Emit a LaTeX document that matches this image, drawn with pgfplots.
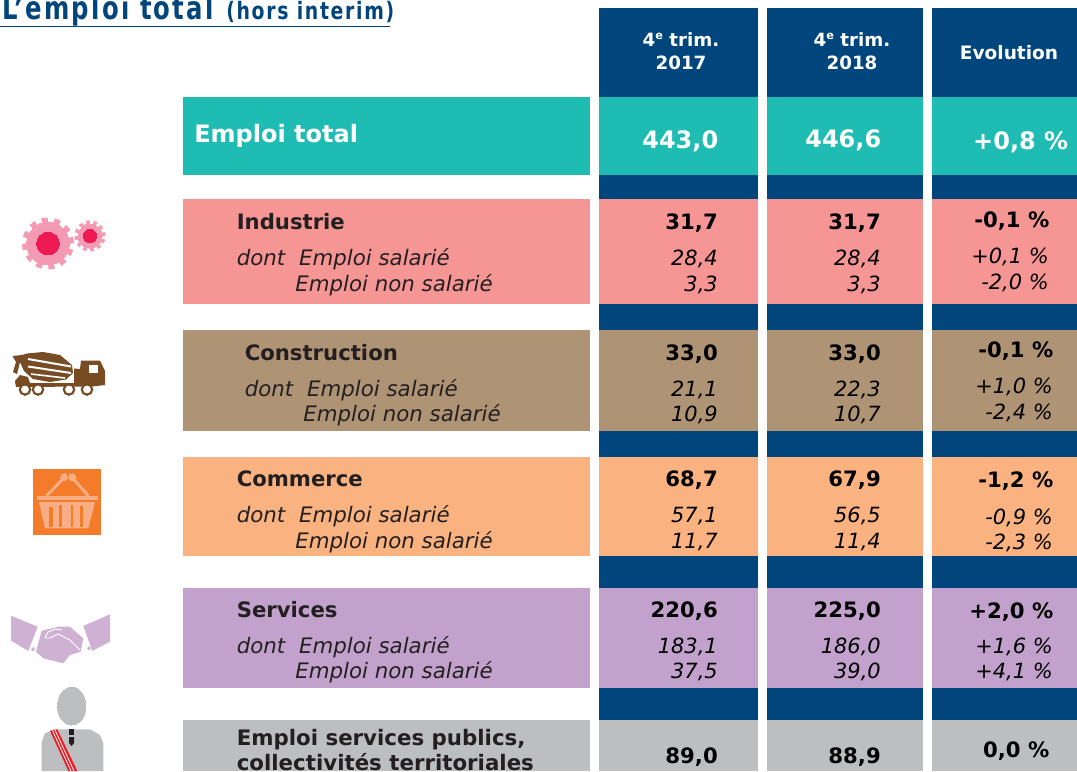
\documentclass[border=0pt]{standalone}
\usepackage{fontspec}
\usepackage{pgfplots}
\pgfplotsset{compat=1.18}
\setmainfont{DejaVu Sans}
\newfontfamily\titlef[LetterSpace=9]{DejaVu Sans}
\definecolor{navy}{HTML}{00457C}
\definecolor{teal1}{HTML}{1FBCB4}
\definecolor{pink1}{HTML}{F59695}
\definecolor{brown1}{HTML}{AF9375}
\definecolor{orange1}{HTML}{FAB380}
\definecolor{purple1}{HTML}{C2A2CC}
\definecolor{grey1}{HTML}{BCBEC0}
\definecolor{ink}{HTML}{231F20}
\definecolor{gearl}{HTML}{F49AB4}
\definecolor{gearc}{HTML}{ED1A53}
\definecolor{truck}{HTML}{774B24}
\definecolor{bask}{HTML}{F47B2A}
\definecolor{baskl}{HTML}{F8AE85}
\definecolor{shake}{HTML}{CFB1D4}
\definecolor{sash}{HTML}{ED1C24}
% x0 x1 y0 y1 in image pixels
\newcommand{\rect}[5]{\addplot[fill=#1,draw=none] coordinates {(#2,#4) (#3,#4) (#3,#5) (#2,#5)} --cycle;}
\newcommand{\poly}[2]{\addplot[fill=#1,draw=none] coordinates {#2} --cycle;}
\newcommand{\seg}[3]{\addplot[color=#1,line width=#2] coordinates {#3};}
\newcommand{\disc}[4]{\addplot[only marks,mark=*,mark size=#4,mark options={fill=#1,draw=#1,line width=0pt}] coordinates {(#2,#3)};}
% three numeric columns of one row: x right edge, baseline
\newcommand{\num}[4]{\node[anchor=base east,inner sep=0,text=black] at (axis cs:#1,#2) {\fontsize{#3}{#3}\selectfont #4};}
\newcommand{\lab}[4]{\node[anchor=base west,inner sep=0,text=ink] at (axis cs:#1,#2) {\fontsize{#3}{#3}\selectfont #4};}
\newcommand{\row}[6]{%
  \lab{#1}{#2}{15.9}{\bfseries #3}
  \lab{#1}{#4}{16}{\itshape dont\hspace{0.65em}Emploi salarié}
  \lab{#6}{#5}{16}{\itshape Emploi non salarié}}
\newcommand{\trim}{\fontsize{13.7}{13.7}\selectfont\bfseries 4\raisebox{.62ex}{\fontsize{8.5}{8.5}\selectfont e} trim.}
\begin{document}
\begin{tikzpicture}
\useasboundingbox (0,0) rectangle (807.75pt,578.25pt);
\begin{axis}[at={(0,0)},anchor=south west,width=807.75pt,height=578.25pt,scale only axis,
  xmin=0,xmax=1077,ymin=0,ymax=771,y dir=reverse,hide axis,clip=true]
% table cells
\rect{navy}{599}{758}{8}{720}
\rect{navy}{767}{923}{8}{720}
\rect{navy}{932}{1077}{8}{720}
\rect{teal1}{183}{590}{97}{175}
\rect{teal1}{599}{758}{97}{175}
\rect{teal1}{767}{923}{97}{175}
\rect{teal1}{932}{1077}{97}{175}
\rect{pink1}{183}{590}{199}{304}
\rect{pink1}{599}{758}{199}{304}
\rect{pink1}{767}{923}{199}{304}
\rect{pink1}{932}{1077}{199}{304}
\rect{brown1}{183}{590}{330}{431}
\rect{brown1}{599}{758}{330}{431}
\rect{brown1}{767}{923}{330}{431}
\rect{brown1}{932}{1077}{330}{431}
\rect{orange1}{183}{590}{457}{556}
\rect{orange1}{599}{758}{457}{556}
\rect{orange1}{767}{923}{457}{556}
\rect{orange1}{932}{1077}{457}{556}
\rect{purple1}{183}{590}{588}{688}
\rect{purple1}{599}{758}{588}{688}
\rect{purple1}{767}{923}{588}{688}
\rect{purple1}{932}{1077}{588}{688}
\rect{grey1}{183}{590}{720}{771}
\rect{grey1}{599}{758}{720}{771}
\rect{grey1}{767}{923}{720}{771}
\rect{grey1}{932}{1077}{720}{771}
% title rule
\seg{navy}{1pt}{(0,26.5) (390,26.5)}
% gears
\disc{gearl}{48}{243.5}{16}
\addplot[only marks,mark=o,mark size=17.6,mark options={draw=gearl,line width=3.8pt,dash pattern=on 4.6pt off 4.63pt}] coordinates {(48,243.5)};
\disc{gearc}{48}{243.5}{8.5}
\disc{gearl}{90}{236}{9}
\addplot[only marks,mark=o,mark size=10.4,mark options={draw=gearl,line width=2.6pt,dash pattern=on 2.8pt off 2.65pt}] coordinates {(90,236)};
\disc{gearc}{90}{236}{5}
% truck
\poly{truck}{(27,353.5) (43,352) (60,355) (72,365) (73,373) (66,379.5) (50,382) (33,379) (24,371) (20,362) (17,374) (13,372) (16,362) (12.5,356) (22,355)}
\seg{white}{1.5pt}{(28,359) (71,366.5)}
\seg{white}{1.5pt}{(28,366.5) (71,373)}
\seg{white}{1.2pt}{(31,374) (65,378)}
\poly{truck}{(74,368.5) (80,369) (81,360.5) (100,360.5) (105,371) (105,385) (92,386.5) (16,387) (15,381) (20,375) (28,377) (30,383) (74,383)}
\rect{white}{89}{98}{365}{373}
\addplot[only marks,mark=*,mark size=3.9,mark options={fill=white,draw=truck,line width=1.6pt}] coordinates {(25,389.5) (38,389.5) (69,389.5) (87,389.5)};
% basket
\rect{bask}{33}{101}{469}{535}
\rect{baskl}{37}{98}{495.7}{500}
\poly{baskl}{(39,502) (95,502) (88.3,528.3) (45,528.3)}
\rect{bask}{49}{53}{506.7}{526.7}
\rect{bask}{59}{62}{505}{526.7}
\rect{bask}{70.7}{73.3}{505}{526.7}
\rect{bask}{80}{83.3}{506}{526.7}
\seg{baskl}{2.2pt}{(46.7,495.7) (64,477.7)}
\seg{baskl}{2.2pt}{(88.3,495.7) (72.3,477.7)}
\disc{baskl}{64}{477.3}{2.5}
\disc{baskl}{72.3}{477.3}{2.5}
% handshake
\poly{shake}{(11,615.7) (37.7,626.7) (28.3,651) (11,640.7)}
\poly{shake}{(110,614.3) (83.3,626) (92.3,651) (110,641.7)}
\poly{shake}{(41.7,630.7) (58.3,626.7) (70,626.7) (83.3,638.3) (80.7,651.7) (70,655) (63.3,663.3) (56.7,661.7) (43.3,658.3) (36,651.7)}
\seg{white}{0.7pt}{(45,638) (48,632) (55,629) (62,630)}
\seg{white}{0.7pt}{(45,638) (50,638) (58,634) (70,640) (80,650)}
\disc{shake}{33}{649}{1.2}
\disc{shake}{89}{648}{1.2}
% person
\addplot[only marks,mark=*,mark size=14.25,mark options={fill=grey1,draw=grey1,line width=0pt,xscale=.75}] coordinates {(71.7,706)};
\poly{grey1}{(41.7,771) (41.7,741.7) (45,733.3) (55,729.3) (90,729.3) (100,735) (103.3,743.3) (103.3,771)}
\poly{sash}{(50,730.7) (57.3,729.3) (77.3,771) (68.3,771)}
\seg{white}{0.6pt}{(52.5,730.5) (71,771)}
\seg{white}{0.6pt}{(55,730) (74,771)}
\rect{ink}{69}{74}{729.3}{735}
\poly{ink}{(69,737) (74,737) (74,743) (71.5,746) (69,743)}
% title
\node[anchor=base west,inner sep=0,text=navy] at (axis cs:2,19) {\scalebox{.76}[1]{\fontsize{24}{24}\selectfont\titlef\bfseries L’emploi total}};
\node[anchor=base west,inner sep=0,text=navy] at (axis cs:226,19) {\scalebox{.785}[1]{\fontsize{18}{18}\selectfont\titlef\bfseries (hors interim)}};
% header
\node[anchor=base,inner sep=0,text=white] at (axis cs:681,46) {\trim};
\node[anchor=base,inner sep=0,text=white] at (axis cs:681,69) {\fontsize{13.7}{13.7}\selectfont\bfseries 2017};
\node[anchor=base,inner sep=0,text=white] at (axis cs:852,46) {\trim};
\node[anchor=base,inner sep=0,text=white] at (axis cs:852,69) {\fontsize{13.7}{13.7}\selectfont\bfseries 2018};
\node[anchor=base,inner sep=0,text=white] at (axis cs:1009,59) {\fontsize{13.9}{13.9}\selectfont\bfseries Evolution};
% emploi total
\node[anchor=base west,inner sep=0,text=white] at (axis cs:194,142) {\fontsize{18}{18}\selectfont\bfseries Emploi total};
\node[anchor=base east,inner sep=0,text=white] at (axis cs:718.5,148) {\fontsize{18}{18}\selectfont\bfseries 443,0};
\node[anchor=base east,inner sep=0,text=white] at (axis cs:881.5,147) {\fontsize{18}{18}\selectfont\bfseries 446,6};
\node[anchor=base east,inner sep=0,text=white] at (axis cs:1068.5,149) {\fontsize{18}{18}\selectfont\bfseries +0,8 \%};
% labels
\row{236.5}{229}{Industrie}{265}{291}{295}
\row{244.5}{360}{Construction}{396}{421}{303}
\row{236.5}{486}{Commerce}{522}{548}{295}
\row{236.5}{617}{Services}{653}{678}{295}
\lab{236.5}{745}{16}{\bfseries Emploi services publics,}
\lab{236.5}{770}{16}{\bfseries collectivités territoriales}
% values
\num{718}{229}{15.9}{\bfseries 31,7}
\num{881}{229}{15.9}{\bfseries 31,7}
\num{1049.5}{227}{15.9}{\bfseries -0,1 \%}
\num{718}{265}{15.7}{\itshape 28,4}
\num{881}{265}{15.7}{\itshape 28,4}
\num{1049}{263}{15.7}{\itshape +0,1 \%}
\num{718}{291}{15.7}{\itshape 3,3}
\num{881}{291}{15.7}{\itshape 3,3}
\num{1049}{289}{15.7}{\itshape -2,0 \%}
\num{718}{360}{15.9}{\bfseries 33,0}
\num{881}{360}{15.9}{\bfseries 33,0}
\num{1053.5}{357}{15.9}{\bfseries -0,1 \%}
\num{718}{396}{15.7}{\itshape 21,1}
\num{881}{396}{15.7}{\itshape 22,3}
\num{1053}{393}{15.7}{\itshape +1,0 \%}
\num{718}{421}{15.7}{\itshape 10,9}
\num{881}{421}{15.7}{\itshape 10,7}
\num{1053}{419}{15.7}{\itshape -2,4 \%}
\num{718}{486}{15.9}{\bfseries 68,7}
\num{881}{486}{15.9}{\bfseries 67,9}
\num{1053.5}{487}{15.9}{\bfseries -1,2 \%}
\num{718}{522}{15.7}{\itshape 57,1}
\num{881}{522}{15.7}{\itshape 56,5}
\num{1053}{524}{15.7}{\itshape -0,9 \%}
\num{718}{548}{15.7}{\itshape 11,7}
\num{881}{548}{15.7}{\itshape 11,4}
\num{1053}{549}{15.7}{\itshape -2,3 \%}
\num{718}{617}{15.9}{\bfseries 220,6}
\num{881}{617}{15.9}{\bfseries 225,0}
\num{1053.5}{618}{15.9}{\bfseries +2,0 \%}
\num{718}{653}{15.7}{\itshape 183,1}
\num{881}{653}{15.7}{\itshape 186,0}
\num{1053}{653}{15.7}{\itshape +1,6 \%}
\num{718}{678}{15.7}{\itshape 37,5}
\num{881}{678}{15.7}{\itshape 39,0}
\num{1053}{678}{15.7}{\itshape +4,1 \%}
\num{718}{763}{15.9}{\bfseries 89,0}
\num{881}{763}{15.9}{\bfseries 88,9}
\num{1049.5}{757}{15.9}{\bfseries 0,0 \%}
\end{axis}
\end{tikzpicture}
\end{document}
